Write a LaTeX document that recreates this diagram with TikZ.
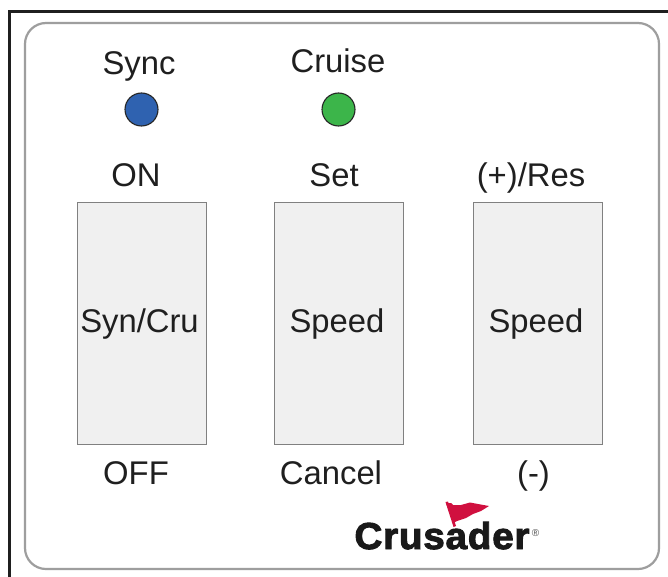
\documentclass[tikz,border=0pt]{standalone}
\usepackage{fontspec}
\setmainfont{Liberation Sans}
\newfontfamily\crfont[FakeBold=2.5,LetterSpace=2]{Liberation Sans Bold}
\tikzset{
 x=1pt,y=-1pt,
 lbl/.style={inner sep=0pt,anchor=base,font=\fontsize{32.8}{34}\selectfont,text=black!88},
 sw/.style={draw=black!50,line width=1pt,fill=black!6,minimum width=129.5pt,minimum height=242pt,inner sep=0pt,anchor=north west},
 led/.style={circle,draw=black!85,line width=1.1pt,minimum size=33pt,inner sep=0pt},
}
\definecolor{flagred}{HTML}{D0103F}
\definecolor{ledblue}{HTML}{2F62B0}
\definecolor{ledgreen}{HTML}{3CB54A}
\begin{document}
\begin{tikzpicture}
\useasboundingbox (0,0) rectangle (668,577);
\fill[white] (0,0) rectangle (668,577);
\draw[line width=2.4pt,black!88] (9.5,577) -- (9.5,11.5) -- (668,11.5);
\draw[line width=2.2pt,black!38,rounded corners=21pt] (25,23) rectangle (659,569);
\node[lbl] (sync) at (139,75) {Sync};
\node[lbl] (cruise) at (338,73) {Cruise};
\node[led,fill=ledblue] (l1) at (141.5,109.5) {};
\node[led,fill=ledgreen] (l2) at (338.5,109.5) {};
\node[lbl] (on) at (136,186) {ON};
\node[lbl] (set) at (334,186) {Set};
\node[lbl] (res) at (531,186) {(+)/Res};
\node[sw] (s1) at (76.9,202) {};
\node[sw] (s2) at (273.9,202) {};
\node[sw] (s3) at (472.9,202) {};
\node[lbl] at (139.5,332) {Syn/Cru};
\node[lbl] at (337,332) {Speed};
\node[lbl] at (536,332) {Speed};
\node[lbl] (off) at (136,484) {OFF};
\node[lbl] (can) at (331,484) {Cancel};
\node[lbl] (minus) at (533.5,484) {(-)};
\node[inner sep=0pt,anchor=base,font=\crfont\fontsize{37.5}{40}\selectfont,text=black!90,xscale=1.03] (cr) at (442,549) {Crusader};
\node[inner sep=0pt,font=\fontsize{10}{10}\selectfont,text=black!70] (reg) at (535.5,533.5) {\textregistered};
\fill[flagred] (446,503) -- (451,503) -- (453,505) -- (461,505) -- (470,502.5) -- (478,504) -- (489,506) -- (481,511) -- (473,514) -- (466,518) -- (457,521) -- (453,523) -- cycle;
\fill[flagred] (445.5,502) -- (448,501.5) -- (456,526) -- (453.5,527) -- cycle;
\end{tikzpicture}
\end{document}
